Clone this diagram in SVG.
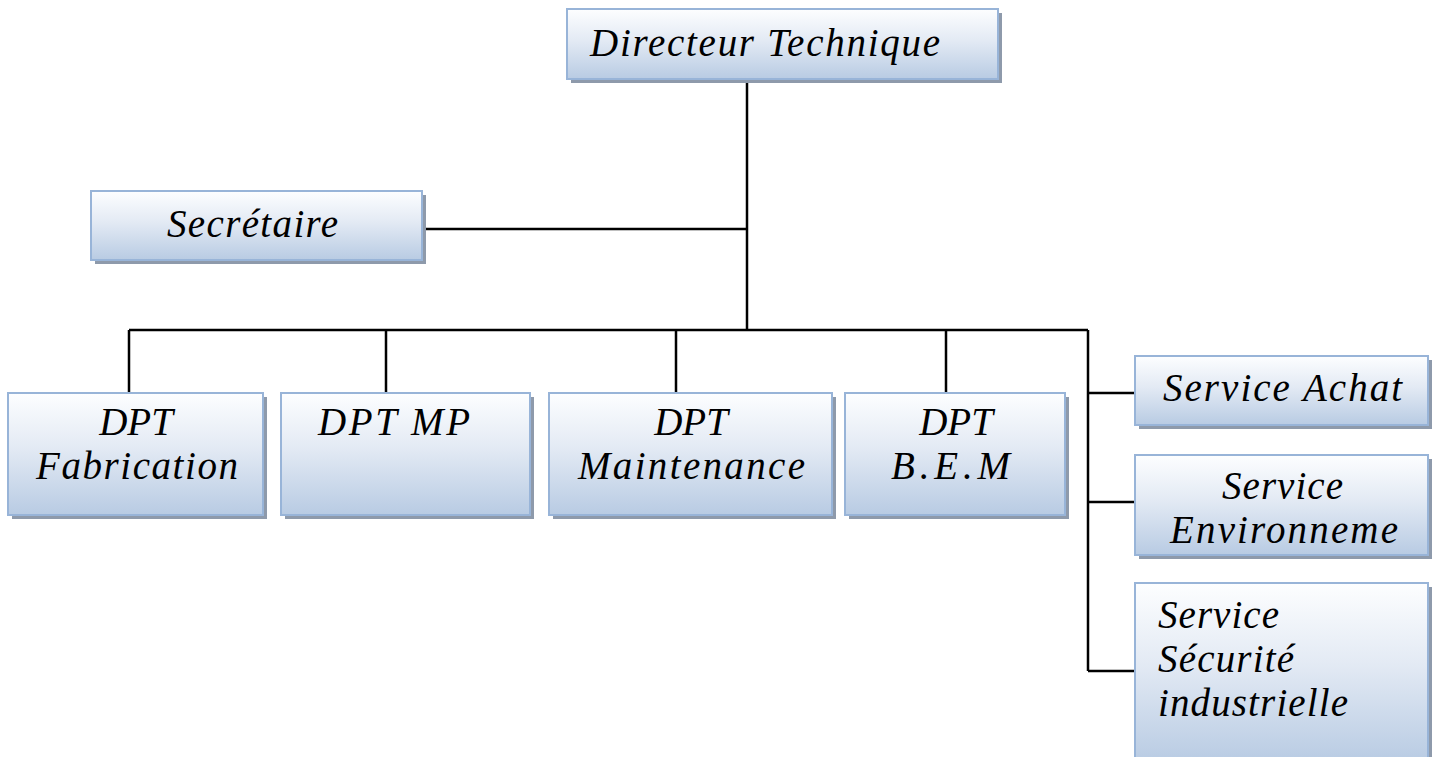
<svg xmlns="http://www.w3.org/2000/svg" width="1437" height="757" viewBox="0 0 1437 757">
  <defs>
    <linearGradient id="boxFill" x1="0" y1="0" x2="0" y2="1">
      <stop offset="0" stop-color="#fdfeff"/>
      <stop offset="0.45" stop-color="#e3eaf4"/>
      <stop offset="1" stop-color="#b8cbe3"/>
    </linearGradient>
    <style>
      .shadow { fill: #8e9aab; }
      .box { fill: url(#boxFill); stroke: #98b4d8; stroke-width: 2; }
      .lbl { font-family: "Liberation Serif", "DejaVu Serif", serif; font-style: italic; font-size: 39px; fill: #000; }
      .mid { text-anchor: middle; }
      .wire { stroke: #000; stroke-width: 2.5; fill: none; }
    </style>
  </defs>
  <rect width="1437" height="757" fill="#ffffff"/>

  <!-- connectors -->
  <g id="connectors">
    <path class="wire" d="M747 79 V330"/>
    <path class="wire" d="M422 229 H747"/>
    <path class="wire" d="M129 330 H1088"/>
    <path class="wire" d="M129 330 V393 M386 330 V393 M676 330 V393 M946 330 V393"/>
    <path class="wire" d="M1088 330 V671"/>
    <path class="wire" d="M1088 393 H1135 M1088 502 H1135 M1088 671 H1135"/>
  </g>

  <g id="directeur">
    <rect class="shadow" x="571" y="13" width="431" height="70"/>
    <rect class="box" x="567" y="9" width="431" height="70"/>
    <text class="lbl" x="590" y="56" textLength="350">Directeur Technique</text>
  </g>

  <g id="secretaire">
    <rect class="shadow" x="95" y="195" width="331" height="69"/>
    <rect class="box" x="91" y="191" width="331" height="69"/>
    <text class="lbl" x="167" y="237" textLength="171">Secrétaire</text>
  </g>

  <g id="dpt-fabrication">
    <rect class="shadow" x="12" y="397" width="255" height="122"/>
    <rect class="box" x="8" y="393" width="255" height="122"/>
    <text class="lbl mid" x="136" y="435">DPT</text>
    <text class="lbl" x="36" y="479" textLength="202">Fabrication</text>
  </g>

  <g id="dpt-mp">
    <rect class="shadow" x="285" y="397" width="249" height="122"/>
    <rect class="box" x="281" y="393" width="249" height="122"/>
    <text class="lbl" x="318" y="435" textLength="152">DPT MP</text>
  </g>

  <g id="dpt-maintenance">
    <rect class="shadow" x="553" y="397" width="283" height="122"/>
    <rect class="box" x="549" y="393" width="283" height="122"/>
    <text class="lbl mid" x="691" y="435">DPT</text>
    <text class="lbl" x="578" y="479" textLength="227">Maintenance</text>
  </g>

  <g id="dpt-bem">
    <rect class="shadow" x="849" y="397" width="220" height="122"/>
    <rect class="box" x="845" y="393" width="220" height="122"/>
    <text class="lbl mid" x="956" y="435">DPT</text>
    <text class="lbl" x="891" y="479" textLength="119">B.E.M</text>
  </g>

  <g id="service-achat">
    <rect class="shadow" x="1139" y="360" width="293" height="69"/>
    <rect class="box" x="1135" y="356" width="293" height="69"/>
    <text class="lbl" x="1163" y="401" textLength="239">Service Achat</text>
  </g>

  <g id="service-environnement">
    <rect class="shadow" x="1139" y="459" width="293" height="100"/>
    <rect class="box" x="1135" y="455" width="293" height="100"/>
    <text class="lbl" x="1222" y="499" textLength="121">Service</text>
    <text class="lbl" x="1170" y="543" textLength="228">Environneme</text>
  </g>

  <g id="service-securite">
    <rect class="shadow" x="1139" y="587" width="293" height="180"/>
    <rect class="box" x="1135" y="583" width="293" height="180"/>
    <text class="lbl" x="1158" y="628" textLength="121">Service</text>
    <text class="lbl" x="1158" y="672" textLength="136">Sécurité</text>
    <text class="lbl" x="1158" y="716" textLength="190">industrielle</text>
  </g>
</svg>
